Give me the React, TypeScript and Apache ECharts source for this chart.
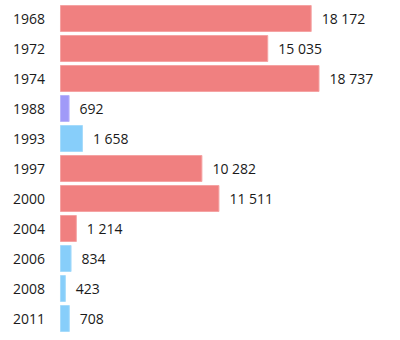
import React, { useEffect, useRef } from "react";
import * as echarts from "echarts";

const categories = ["1968", "1972", "1974", "1988", "1993", "1997", "2000", "2004", "2006", "2008", "2011"];
const values = [18172, 15035, 18737, 692, 1658, 10282, 11511, 1214, 834, 423, 708];
const groups = ["r", "r", "r", "p", "b", "r", "r", "r", "b", "b", "b"];
const palette: Record<string, string> = { r: "#f08080", p: "#a09af8", b: "#87cefa" };
const borders: Record<string, string> = { r: "#f5a3a3", p: "#b9b4fa", b: "#a6dbfb" };

const fmt = (v: number) => String(v).replace(/\B(?=(\d{3})+(?!\d))/g, " ");

export default function App() {
  const ref = useRef<HTMLDivElement>(null);
  useEffect(() => {
    if (!ref.current) return;
    const chart = echarts.init(ref.current, undefined, { renderer: "svg" });
    chart.setOption({
      animation: false,
      textStyle: { fontFamily: "Open Sans" },
      grid: { left: 60, top: 3.5, height: 330, width: 277, containLabel: false },
      xAxis: { type: "value", min: 0, max: 20000, show: false },
      yAxis: {
        type: "category",
        data: categories,
        inverse: true,
        axisLine: { show: false },
        axisTick: { show: false },
        axisLabel: { fontSize: 14, color: "#1a1a1a", margin: 15, fontFamily: "Open Sans" },
      },
      series: [
        {
          type: "bar",
          barWidth: 27,
          data: values.map((v, i) => ({
            value: v,
            itemStyle: { color: palette[groups[i]], borderColor: borders[groups[i]], borderWidth: 1 },
          })),
          label: {
            show: true,
            position: "right",
            distance: 10,
            fontSize: 14,
            color: "#1a1a1a",
            fontFamily: "Open Sans",
            formatter: (p: any) => fmt(p.value),
          },
        },
      ],
    });
    return () => chart.dispose();
  }, []);
  return <div ref={ref} style={{ position: "absolute", left: 0, top: 0, width: 400, height: 340 }} />;
}
